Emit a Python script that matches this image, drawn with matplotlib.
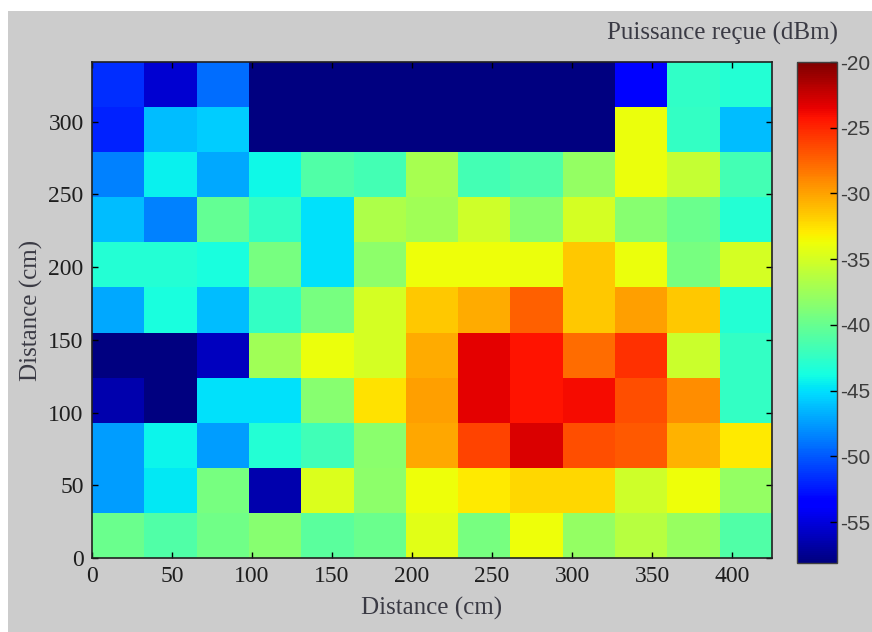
import numpy as np
import matplotlib
matplotlib.use("Agg")
import matplotlib.pyplot as plt
from matplotlib.patches import Rectangle

# bords des cellules (cm)
x_edges = np.linspace(0, 425, 14)
y_edges = np.linspace(0, 341, 12)

# puissance reçue (dBm), ligne du bas (y=0) vers le haut
row0 = [-39.8, -41.0, -39.6, -38.6, -40.6, -39.8, -34.3, -39.2, -33.7, -38.0, -36.3, -37.8, -41.0]
row1 = [-47.4, -44.7, -39.2, -56.5, -34.6, -38.2, -33.7, -32.9, -32.2, -32.2, -35.2, -33.7, -38.0]
row2 = [-47.4, -44.2, -47.4, -43.2, -41.8, -38.4, -30.2, -26.2, -23.0, -26.6, -27.0, -30.7, -32.9]
row3 = [-56.5, -58.0, -44.9, -44.9, -38.6, -32.6, -29.9, -23.3, -24.2, -24.0, -26.6, -29.1, -42.4]
row4 = [-58.0, -58.0, -55.9, -37.3, -33.9, -35.0, -30.3, -23.3, -24.2, -27.8, -25.5, -35.4, -42.4]
row5 = [-47.0, -43.6, -46.2, -42.4, -39.2, -35.0, -31.6, -30.3, -27.4, -31.6, -29.9, -31.6, -43.2]
row6 = [-43.2, -43.2, -43.6, -39.2, -45.0, -38.2, -33.7, -33.7, -33.9, -31.6, -33.9, -39.2, -35.0]
row7 = [-46.2, -48.5, -40.1, -42.4, -45.0, -36.7, -37.3, -35.2, -38.6, -35.0, -38.6, -39.8, -43.2]
row8 = [-48.5, -44.3, -47.0, -44.0, -41.0, -41.6, -37.1, -41.6, -41.0, -38.0, -33.9, -35.7, -41.6]
row9 = [-52.0, -46.2, -45.6, -58.0, -58.0, -58.0, -58.0, -58.0, -58.0, -58.0, -33.9, -42.4, -46.2]
row10 = [-51.7, -55.3, -49.2, -58.0, -58.0, -58.0, -58.0, -58.0, -58.0, -58.0, -53.2, -42.6, -43.2]

power = np.array([row0, row1, row2, row3, row4, row5, row6, row7, row8, row9, row10])

x_ticks = [0, 50, 100, 150, 200, 250, 300, 350, 400]
y_ticks = [0, 50, 100, 150, 200, 250, 300]
cb_ticks = [-20, -25, -30, -35, -40, -45, -50, -55]

serif = ["Liberation Serif", "DejaVu Serif"]
gray_bg = "#cccccc"

fig = plt.figure(figsize=(8.72, 6.32), dpi=100, facecolor="white")
fig.patches.append(Rectangle((8 / 872, 0), 1, 1 - 11 / 632, transform=fig.transFigure,
                             facecolor=gray_bg, edgecolor="none", zorder=-10))

ax = fig.add_axes([92 / 872, 1 - 558 / 632, 680 / 872, 496 / 632])
mesh = ax.pcolormesh(x_edges, y_edges, power, cmap="jet", vmin=-58.1, vmax=-20)
ax.set_xlim(0, 425)
ax.set_ylim(0, 341)
ax.set_xticks(x_ticks)
ax.set_yticks(y_ticks)
ax.tick_params(direction="in", top=True, right=True, length=4, width=1, labelsize=17)
ax.tick_params(axis="x", pad=6)
ax.tick_params(axis="y", pad=6)
for lab in ax.get_xticklabels() + ax.get_yticklabels():
    lab.set_family(serif)
    lab.set_color("#1e1e1e")
for s in ax.spines.values():
    s.set_linewidth(1.2)
    s.set_color("#202020")
ax.set_xlabel("Distance (cm)", family=serif, fontsize=18, color="#3a3a44", labelpad=7)
ax.set_ylabel("Distance (cm)", family=serif, fontsize=18, color="#3a3a44", labelpad=4)

cax = fig.add_axes([797 / 872, 1 - 563 / 632, 40 / 872, 501 / 632])
cb = fig.colorbar(mesh, cax=cax, ticks=cb_ticks)
cb.outline.set_linewidth(1.0)
cb.outline.set_edgecolor("#404040")
cax.tick_params(direction="in", length=5, width=1, labelsize=15, labelcolor="#3c3c3c", pad=2)
for lab in cax.get_yticklabels():
    lab.set_family(["Liberation Sans", "DejaVu Sans"])
cb.ax.yaxis.set_major_formatter(matplotlib.ticker.FuncFormatter(lambda v, p: "%d" % v))

fig.text(722 / 872, 1 - 33 / 632, "Puissance reçue (dBm)", family=serif, fontsize=18,
         color="#3a3a44", ha="center", va="center")

fig.savefig("out.png", dpi=100, facecolor=fig.get_facecolor())
